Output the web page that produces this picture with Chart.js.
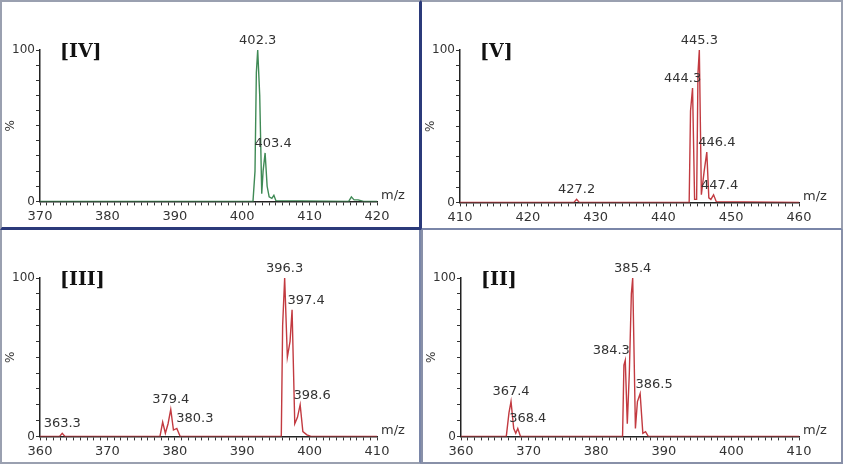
<!DOCTYPE html>
<html>
<head>
<script src="https://cdn.jsdelivr.net/npm/chart.js@4"></script>
<style>
  body { margin: 0; background: #fff; }
  .panel { position: absolute; box-sizing: border-box; background: #fff; }
  canvas { display: block; }
</style>
</head>
<body>
<div class="panel" id="p1" style="left:0;top:0;width:421px;height:230px;border:2px solid #9aa0b0;border-right:2px solid #2b3a7a;border-bottom:3px solid #2b3a7a;"><canvas id="c1"></canvas></div>
<div class="panel" id="p2" style="left:421px;top:0;width:422px;height:230px;border:2px solid #9aa0b0;border-left:1px solid #2b3a7a;border-bottom:2px solid #7a86a8;"><canvas id="c2"></canvas></div>
<div class="panel" id="p3" style="left:0;top:230px;width:421px;height:234px;border:2px solid #9aa0b0;border-top:none;border-right:2px solid #7a86a8;"><canvas id="c3"></canvas></div>
<div class="panel" id="p4" style="left:421px;top:230px;width:422px;height:234px;border:2px solid #8890a8;border-top:none;"><canvas id="c4"></canvas></div>
<script>
// spectrum traces as [m/z, %] pairs
const specIV = [[370,0],[401.6,0],[401.9,20],[402.1,85],[402.3,100],[402.6,70],[402.9,5],[403.1,20],[403.4,32],[403.7,10],[404.0,3],[404.4,2],[404.7,4],[405.0,0.5],[415.8,0],[416.2,3],[416.6,1],[417.2,1],[418,0],[420,0]];
const specV = [[410,0],[426.8,0],[427.2,2],[427.6,0],[443.8,0],[444.0,60],[444.3,75],[444.6,2],[444.9,2],[445.1,85],[445.3,100],[445.6,5],[446.0,20],[446.4,33],[446.7,3],[447.0,2],[447.4,5],[447.8,0.5],[460,0]];
const specIII = [[360,0],[362.9,0],[363.3,2],[363.7,0],[377.8,0],[378.2,9],[378.6,2],[379.0,8],[379.4,17],[379.8,4],[380.3,5],[380.8,0],[395.8,0],[396.0,70],[396.3,100],[396.7,50],[397.1,60],[397.4,80],[397.8,8],[398.2,12],[398.6,20],[399.0,3],[399.6,1],[400.2,0],[410,0]];
const specII = [[360,0],[366.7,0],[367.1,15],[367.4,22],[367.8,5],[368.1,2],[368.4,5],[368.8,0],[383.9,0],[384.1,45],[384.3,48],[384.6,8],[384.9,40],[385.2,90],[385.4,100],[385.8,5],[386.1,22],[386.5,27],[386.9,2],[387.3,3],[387.7,0],[410,0]];

const peaksIV = [[402.3,100,"402.3"],[403.4,32,"403.4"]];
const peaksV = [[427.2,2,"427.2"],[444.3,75,"444.3"],[445.3,100,"445.3"],[446.4,33,"446.4"],[447.4,5,"447.4"]];
const peaksIII = [[363.3,2,"363.3"],[379.4,17,"379.4"],[380.3,5,"380.3"],[396.3,100,"396.3"],[397.4,80,"397.4"],[398.6,20,"398.6"]];
const peaksII = [[367.4,22,"367.4"],[368.4,5,"368.4"],[384.3,48,"384.3"],[385.4,100,"385.4"],[386.5,27,"386.5"]];

const FONT = "'DejaVu Sans', Verdana, sans-serif";

// label offsets in pixels [dx, dy] so the texts don't collide
const labelPlugin = {
  id: "peakLabels",
  afterDatasetsDraw(chart, args, opts) {
    const ctx = chart.ctx;
    const x = chart.scales.x, y = chart.scales.y;
    ctx.save();
    ctx.font = "13px " + FONT;
    ctx.fillStyle = "#333";
    ctx.textAlign = "center";
    ctx.textBaseline = "bottom";
    opts.peaks.forEach((p, i) => {
      const off = opts.offsets[i] || [0, 0];
      ctx.fillText(p[2], x.getPixelForValue(p[0]) + off[0], y.getPixelForValue(p[1]) - 3 + off[1]);
    });
    // panel tag
    ctx.font = "bold 19px 'DejaVu Serif', 'Liberation Serif', serif";
    ctx.fillStyle = "#111";
    ctx.textAlign = "left";
    ctx.textBaseline = "middle";
    ctx.fillText(opts.tag, chart.chartArea.left + 20, chart.chartArea.top + 2);
    // m/z
    ctx.font = "13px " + FONT;
    ctx.fillStyle = "#333";
    ctx.fillText("m/z", chart.chartArea.right + 4, chart.chartArea.bottom - 6);
    ctx.restore();
  }
};

function makeChart(id, data, color, min, max, peaks, offsets, tag) {
  return new Chart(document.getElementById(id), {
    type: "line",
    data: { datasets: [{ data: data.map(d => ({ x: d[0], y: d[1] })), borderColor: color, borderWidth: 1.4, pointRadius: 0, tension: 0 }] },
    options: {
      responsive: true, maintainAspectRatio: false, animation: false,
      layout: { padding: { top: 48, right: 42, left: 2, bottom: 0 } },
      plugins: { legend: { display: false }, tooltip: { enabled: false },
        peakLabels: { peaks: peaks, offsets: offsets, tag: tag } },
      scales: {
        x: { type: "linear", min: min, max: max,
          grid: { drawOnChartArea: false, color: "#333", tickLength: 4 },
          border: { color: "#222", width: 1.5 },
          ticks: { stepSize: 1, autoSkip: false, maxRotation: 0, color: "#333", font: { family: FONT, size: 13 },
            callback: v => (v % 10 === 0 ? v : "") } },
        y: { min: 0, max: 100,
          afterFit: s => { s.width = 36; },
          grid: { drawOnChartArea: false, color: "#333", tickLength: 4 },
          border: { color: "#222", width: 1.5 },
          title: { display: true, text: "%", color: "#333", font: { family: FONT, size: 12 }, padding: 0 },
          ticks: { stepSize: 10, autoSkip: false, padding: 1, color: "#333", font: { family: FONT, size: 12 },
            callback: v => (v === 0 || v === 100 ? v : "") } }
      }
    },
    plugins: [labelPlugin]
  });
}

makeChart("c1", specIV, "#3f8a55", 370, 420, peaksIV, [[0, 0], [8, 0]], "[IV]");
makeChart("c2", specV, "#c23a40", 410, 460, peaksV, [[0, 0], [-10, 0], [0, 0], [10, 0], [6, 0]], "[V]");
makeChart("c3", specIII, "#c23a40", 360, 410, peaksIII, [[0, 0], [0, 0], [18, 0], [0, 0], [14, 0], [12, 0]], "[III]");
makeChart("c4", specII, "#c23a40", 360, 410, peaksII, [[0, 0], [10, 0], [-14, 0], [0, 0], [14, 0]], "[II]");
</script>
</body>
</html>
